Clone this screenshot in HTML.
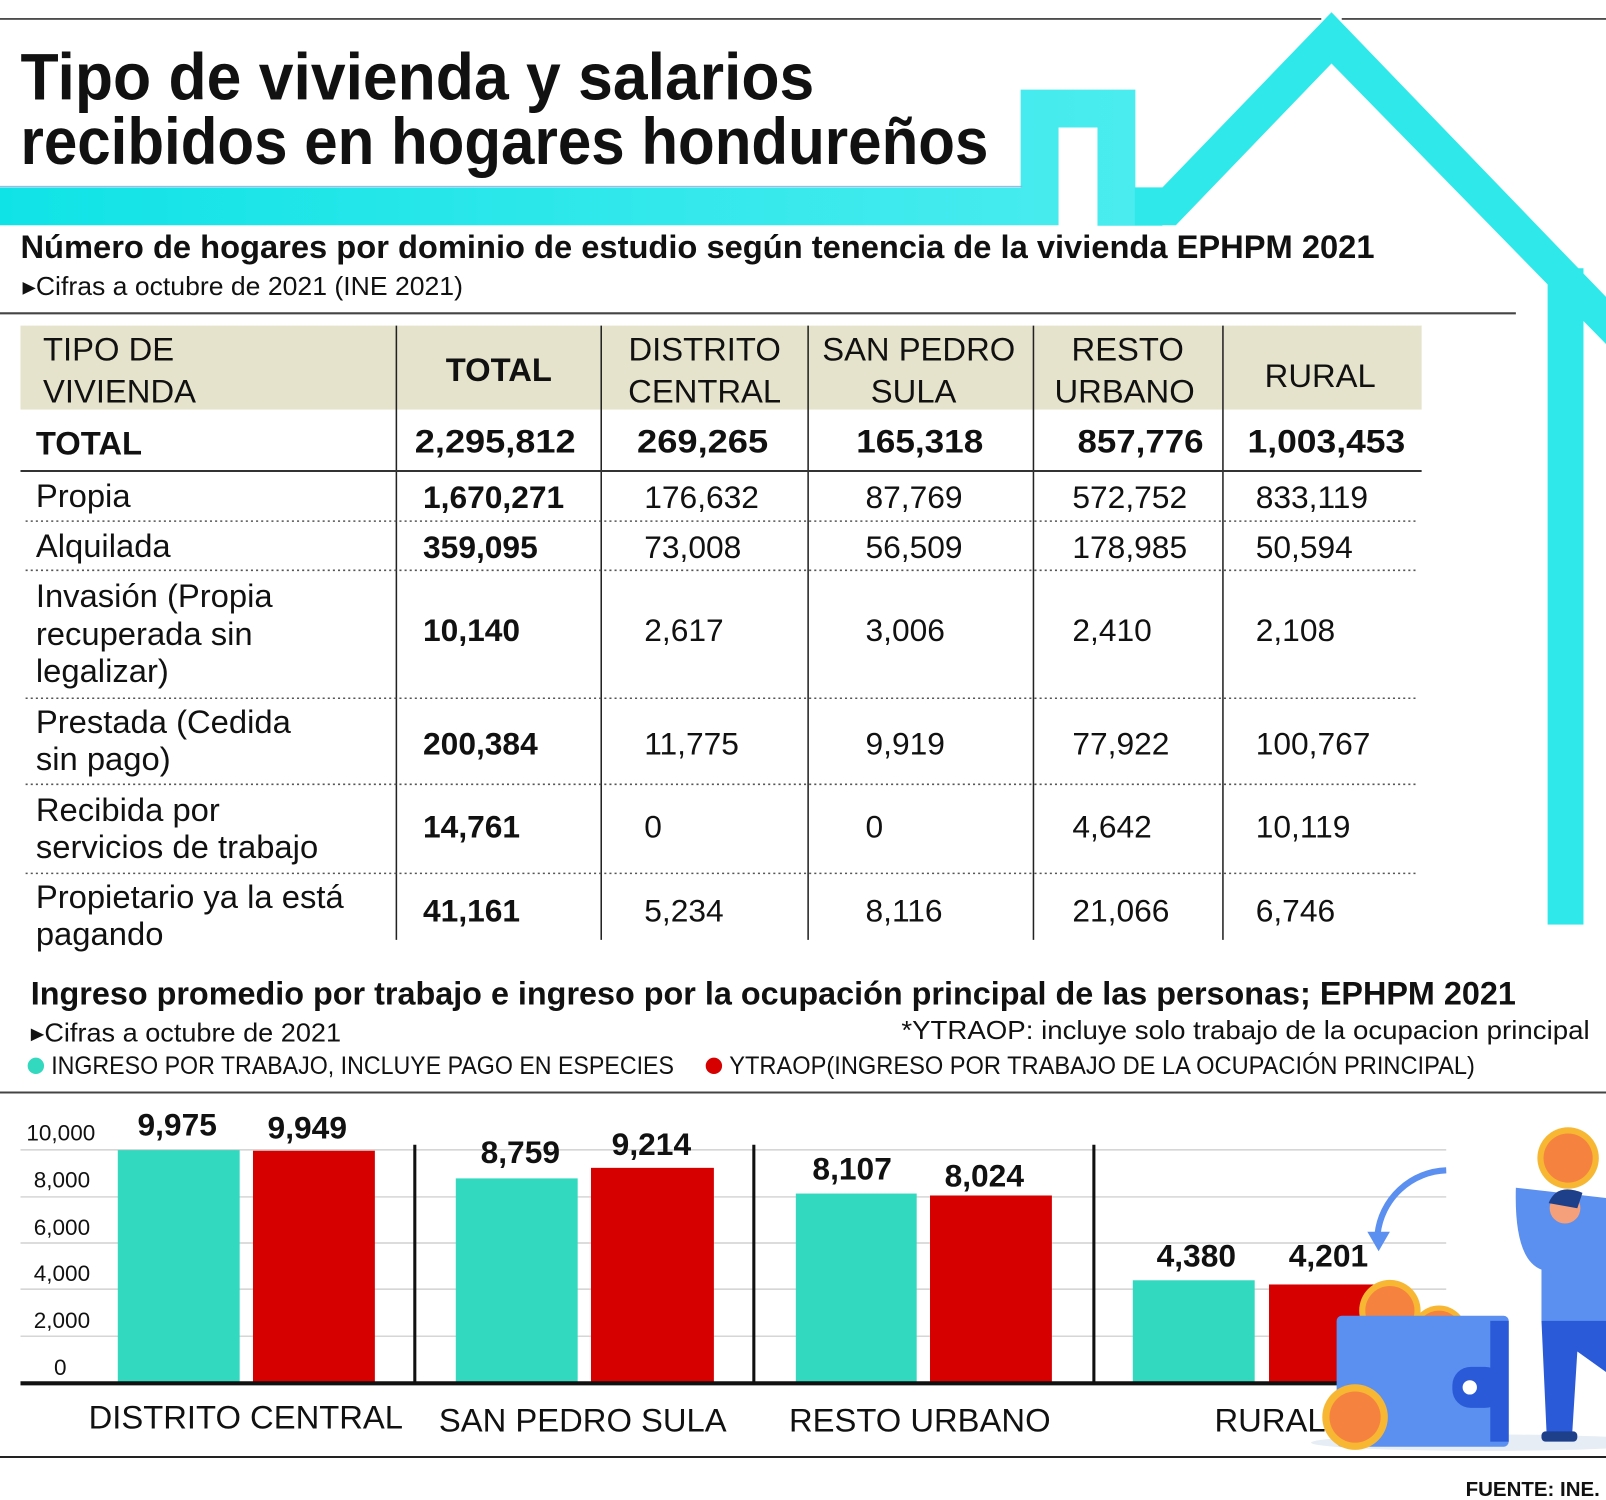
<!DOCTYPE html>
<html><head><meta charset="utf-8"><style>
html,body{margin:0;padding:0;background:#fff;}
svg{display:block;}
text{font-family:"Liberation Sans Narrow","Liberation Sans",sans-serif;fill:#111;}
.b{font-weight:bold;}
</style></head><body>
<svg width="1606" height="1500" viewBox="0 0 1568 1465" preserveAspectRatio="none" xmlns="http://www.w3.org/2000/svg">
<defs>
<linearGradient id="cy" x1="0" y1="0" x2="1" y2="0"><stop offset="0" stop-color="#10e3e6"/><stop offset="1" stop-color="#4cecef"/></linearGradient>
</defs>
<!-- top rule -->
<line x1="0" y1="18.5" x2="1290" y2="18.5" stroke="#333" stroke-width="1.5"/>
<line x1="1310" y1="18.5" x2="1568" y2="18.5" stroke="#333" stroke-width="1.5"/>
<!-- house outline -->
<path d="M0,201.5 H1015 V106 H1090 V202 H1135" fill="none" stroke="url(#cy)" stroke-width="37" stroke-linejoin="miter"/>
<polygon points="1108,183 1135,183 1300,12 1568,290 1568,336 1300,62 1148,220 1108,220" fill="#2ee8ea"/>
<rect x="1511" y="262" width="35" height="641" fill="#2ee8ea"/>
<line x1="0" y1="182" x2="998" y2="182" stroke="#9ad" stroke-width="1"/>
<!-- Title -->
<text class="b" x="20" y="97" font-size="64" textLength="775" lengthAdjust="spacingAndGlyphs">Tipo de vivienda y salarios</text>
<text class="b" x="20" y="160" font-size="64" textLength="945" lengthAdjust="spacingAndGlyphs">recibidos en hogares hondureños</text>
<!-- Section 1 -->
<text class="b" x="20" y="252" font-size="32" textLength="1322" lengthAdjust="spacingAndGlyphs">Número de hogares por dominio de estudio según tenencia de la vivienda EPHPM 2021</text>
<text x="22" y="288" font-size="25" textLength="430" lengthAdjust="spacingAndGlyphs">▸Cifras a octubre de 2021 (INE 2021)</text>
<line x1="0" y1="306" x2="1480" y2="306" stroke="#444" stroke-width="2"/>
<!-- Table -->
<rect x="20" y="318" width="1368" height="82" fill="#e5e3cc"/>
<g stroke="#222" stroke-width="1.5">
<line x1="387" y1="318" x2="387" y2="918"/><line x1="587" y1="318" x2="587" y2="918"/>
<line x1="789" y1="318" x2="789" y2="918"/><line x1="1009" y1="318" x2="1009" y2="918"/>
<line x1="1194" y1="318" x2="1194" y2="918"/>
</g>
<line x1="20" y1="460" x2="1388" y2="460" stroke="#333" stroke-width="2"/>
<g stroke="#555" stroke-width="1.5" stroke-dasharray="2,3">
<line x1="25" y1="509" x2="1382" y2="509"/><line x1="25" y1="557" x2="1382" y2="557"/>
<line x1="25" y1="682" x2="1382" y2="682"/><line x1="25" y1="766" x2="1382" y2="766"/>
<line x1="25" y1="853" x2="1382" y2="853"/>
</g>
<g font-size="32">
<text x="42" y="352">TIPO DE</text><text x="42" y="393">VIVIENDA</text>
<text class="b" x="487" y="372" text-anchor="middle">TOTAL</text>
<text x="688" y="352" text-anchor="middle">DISTRITO</text><text x="688" y="393" text-anchor="middle">CENTRAL</text>
<text x="897" y="352" text-anchor="middle">SAN PEDRO</text><text x="892" y="393" text-anchor="middle">SULA</text>
<text x="1101" y="352" text-anchor="middle">RESTO</text><text x="1098" y="393" text-anchor="middle">URBANO</text>
<text x="1289" y="378" text-anchor="middle">RURAL</text>
</g>
<g font-size="32" class="b">
<text class="b" x="35" y="444">TOTAL</text>
<text class="b" x="405" y="442" textLength="157" lengthAdjust="spacingAndGlyphs">2,295,812</text>
<text class="b" x="622" y="442" textLength="128" lengthAdjust="spacingAndGlyphs">269,265</text>
<text class="b" x="836" y="442" textLength="124" lengthAdjust="spacingAndGlyphs">165,318</text>
<text class="b" x="1052" y="442" textLength="123" lengthAdjust="spacingAndGlyphs">857,776</text>
<text class="b" x="1218" y="442" textLength="154" lengthAdjust="spacingAndGlyphs">1,003,453</text>
</g>
<g font-size="32">
<text x="35" y="495">Propia</text>
<text x="35" y="544">Alquilada</text>
<text x="35" y="593">Invasión (Propia</text><text x="35" y="630">recuperada sin</text><text x="35" y="666">legalizar)</text>
<text x="35" y="716">Prestada (Cedida</text><text x="35" y="752">sin pago)</text>
<text x="35" y="802">Recibida por</text><text x="35" y="838">servicios de trabajo</text>
<text x="35" y="887">Propietario ya la está</text><text x="35" y="923">pagando</text>
</g>
<g font-size="31">
<text class="b" x="413" y="496">1,670,271</text><text x="629" y="496">176,632</text><text x="845" y="496">87,769</text><text x="1047" y="496">572,752</text><text x="1226" y="496">833,119</text>
<text class="b" x="413" y="545">359,095</text><text x="629" y="545">73,008</text><text x="845" y="545">56,509</text><text x="1047" y="545">178,985</text><text x="1226" y="545">50,594</text>
<text class="b" x="413" y="626">10,140</text><text x="629" y="626">2,617</text><text x="845" y="626">3,006</text><text x="1047" y="626">2,410</text><text x="1226" y="626">2,108</text>
<text class="b" x="413" y="737">200,384</text><text x="629" y="737">11,775</text><text x="845" y="737">9,919</text><text x="1047" y="737">77,922</text><text x="1226" y="737">100,767</text>
<text class="b" x="413" y="818">14,761</text><text x="629" y="818">0</text><text x="845" y="818">0</text><text x="1047" y="818">4,642</text><text x="1226" y="818">10,119</text>
<text class="b" x="413" y="900">41,161</text><text x="629" y="900">5,234</text><text x="845" y="900">8,116</text><text x="1047" y="900">21,066</text><text x="1226" y="900">6,746</text>
</g>
<!-- Section 2 -->
<text class="b" x="30" y="981" font-size="32" textLength="1450" lengthAdjust="spacingAndGlyphs">Ingreso promedio por trabajo e ingreso por la ocupación principal de las personas; EPHPM 2021</text>
<text x="30" y="1017" font-size="25" textLength="303" lengthAdjust="spacingAndGlyphs">▸Cifras a octubre de 2021</text>
<text x="1552" y="1015" font-size="25" text-anchor="end" textLength="672" lengthAdjust="spacingAndGlyphs">*YTRAOP: incluye solo trabajo de la ocupacion principal</text>
<circle cx="35" cy="1041" r="8" fill="#33d9be"/>
<text x="50" y="1049" font-size="24" textLength="608" lengthAdjust="spacingAndGlyphs">INGRESO POR TRABAJO, INCLUYE PAGO EN ESPECIES</text>
<circle cx="697" cy="1041" r="8" fill="#d60000"/>
<text x="712" y="1049" font-size="24" textLength="728" lengthAdjust="spacingAndGlyphs">YTRAOP(INGRESO POR TRABAJO DE LA OCUPACIÓN PRINCIPAL)</text>
<line x1="0" y1="1067" x2="1568" y2="1067" stroke="#444" stroke-width="2"/>
<!-- grid -->
<g stroke="#c8c8c8" stroke-width="1.2">
<line x1="20" y1="1123" x2="1412" y2="1123"/><line x1="20" y1="1169" x2="1412" y2="1169"/>
<line x1="20" y1="1214" x2="1412" y2="1214"/><line x1="20" y1="1259" x2="1412" y2="1259"/>
<line x1="20" y1="1305" x2="1412" y2="1305"/>
</g>
<g font-size="22" text-anchor="end">
<text x="93" y="1114">10,000</text><text x="88" y="1160">8,000</text><text x="88" y="1206">6,000</text>
<text x="88" y="1251">4,000</text><text x="88" y="1297">2,000</text><text x="65" y="1343">0</text>
</g>
<!-- bars: height = v*0.02273, base 1350 -->
<rect x="115" y="1123.3" width="119" height="226.7" fill="#33d9be"/>
<rect x="247" y="1123.9" width="119" height="226.1" fill="#d60000"/>
<rect x="445" y="1150.9" width="119" height="199.1" fill="#33d9be"/>
<rect x="577" y="1140.6" width="120" height="209.4" fill="#d60000"/>
<rect x="777" y="1165.7" width="118" height="184.3" fill="#33d9be"/>
<rect x="908" y="1167.6" width="119" height="182.4" fill="#d60000"/>
<rect x="1106" y="1250.4" width="119" height="99.6" fill="#33d9be"/>
<rect x="1239" y="1254.5" width="119" height="95.5" fill="#d60000"/>
<g stroke="#111" stroke-width="3">
<line x1="405" y1="1118" x2="405" y2="1350"/><line x1="736" y1="1118" x2="736" y2="1350"/><line x1="1068" y1="1118" x2="1068" y2="1350"/>
</g>
<line x1="20" y1="1351" x2="1345" y2="1351" stroke="#111" stroke-width="4"/>
<g font-size="31" text-anchor="middle" class="b">
<text class="b" x="173" y="1109">9,975</text><text class="b" x="300" y="1112">9,949</text>
<text class="b" x="508" y="1136">8,759</text><text class="b" x="636" y="1128">9,214</text>
<text class="b" x="832" y="1152">8,107</text><text class="b" x="961" y="1159">8,024</text>
<text class="b" x="1168" y="1237">4,380</text><text class="b" x="1297" y="1237">4,201</text>
</g>
<g font-size="32" text-anchor="middle">
<text x="240" y="1395">DISTRITO CENTRAL</text><text x="569" y="1398">SAN PEDRO SULA</text>
<text x="898" y="1398">RESTO URBANO</text><text x="1240" y="1398">RURAL</text>
</g>
<!-- illustration -->
<ellipse cx="1450" cy="1409" rx="170" ry="8" fill="#e6edf5"/>
<path d="M1412,1143 A70,70 0 0 0 1345,1205" fill="none" stroke="#5b8ff0" stroke-width="6"/>
<polygon points="1335,1203 1357,1203 1346,1222" fill="#5b8ff0"/>
<circle cx="1357" cy="1280" r="30" fill="#f7b733"/><circle cx="1357" cy="1280" r="24" fill="#f5833f"/>
<circle cx="1405" cy="1302" r="27" fill="#f7b733"/><circle cx="1405" cy="1302" r="22" fill="#f5833f"/>
<rect x="1305" y="1285" width="168" height="128" rx="5" fill="#5b8ff0"/>
<rect x="1455" y="1290" width="18" height="118" fill="#2a5ad8"/>
<rect x="1418" y="1335" width="50" height="40" rx="18" fill="#2a5ad8"/>
<circle cx="1435" cy="1355" r="7" fill="#fff"/>
<circle cx="1323" cy="1384" r="32" fill="#f7b733"/><circle cx="1323" cy="1384" r="25" fill="#f5833f"/>
<!-- person -->
<path d="M1480,1160 Q1478,1230 1505,1240 L1505,1290 L1568,1295 L1568,1170 Z" fill="#5b8ff0"/>
<path d="M1505,1290 L1510,1400 L1535,1400 L1540,1320 L1568,1340 L1568,1290 Z" fill="#2a5ad8"/>
<circle cx="1528" cy="1180" r="15" fill="#f5a07a"/>
<path d="M1512,1175 Q1520,1155 1545,1165 L1540,1180 Z" fill="#1e3f8a"/>
<rect x="1505" y="1398" width="35" height="10" rx="4" fill="#1e3f8a"/>
<circle cx="1531" cy="1131" r="30" fill="#f7b733"/><circle cx="1531" cy="1131" r="24" fill="#f5833f"/>
<line x1="0" y1="1423" x2="1568" y2="1423" stroke="#222" stroke-width="2"/>
<text class="b" x="1562" y="1461" font-size="20" text-anchor="end">FUENTE: INE.</text>
</svg>
</body></html>
